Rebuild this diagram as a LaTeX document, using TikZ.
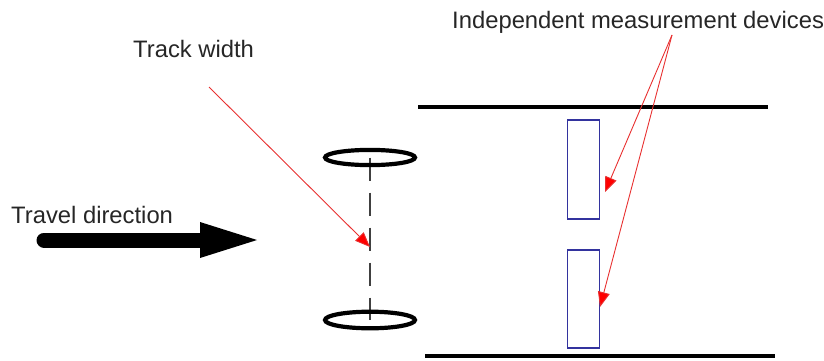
\documentclass[tikz,border=0pt]{standalone}
\usepackage{fontspec}
\setmainfont{Liberation Sans}
\usetikzlibrary{arrows.meta}
\definecolor{labelgray}{HTML}{262626}
\definecolor{devblue}{HTML}{33339E}
\definecolor{pointred}{HTML}{E83030}
\tikzset{
  label text/.style={font=\fontsize{23.8}{28}\selectfont, text=labelgray, inner sep=0pt, anchor=base west},
  rail/.style={line width=4pt, black},
  wheel/.style={line width=4.2pt, black},
  axle/.style={line width=1.3pt, black!75, dash pattern=on 23pt off 12pt},
  device/.style={draw=devblue, line width=1.6pt, fill=white, minimum width=32pt, inner sep=0pt},
  pointer/.style={draw=pointred, line width=0.9pt, -{Triangle[length=15pt, width=12pt, fill=red]}},
  travel/.style={line width=15pt, line cap=round, black},
}
\begin{document}
\begin{tikzpicture}[x=1pt, y=-1pt]
  \useasboundingbox (0,0) rectangle (824,361);

  % labels
  \node[label text] (trackLbl) at (133,58) {Track width};
  \node[label text] (travelLbl) at (11,223) {Travel direction};
  \node[label text] (devLbl) at (452,29) {Independent measurement devices};

  % rails
  \coordinate (railTopL) at (418,107);
  \coordinate (railTopR) at (768,107);
  \coordinate (railBotL) at (425,356);
  \coordinate (railBotR) at (775,356);
  \draw[rail] (railTopL) -- (railTopR);
  \draw[rail] (railBotL) -- (railBotR);

  % wheels and axle
  \coordinate (wheelTop) at (370,157.5);
  \coordinate (wheelBot) at (370,320);
  \draw[axle] (wheelTop) -- (wheelBot);
  \draw[wheel] (wheelTop) ellipse [x radius=45, y radius=7.6];
  \draw[wheel] (wheelBot) ellipse [x radius=45, y radius=8.3];

  % measurement devices
  \node[device, minimum height=99pt] (devTop) at (583.5,169.5) {};
  \node[device, minimum height=98pt] (devBot) at (583.5,299) {};

  % travel direction arrow
  \coordinate (shaftStart) at (44,240);
  \coordinate (shaftEnd) at (204,240);
  \draw[travel] (shaftStart) -- (shaftEnd);
  \fill[black] (200,222) -- (257,240) -- (200,258) -- cycle;

  % pointers
  \coordinate (trackFrom) at (209,87);
  \coordinate (trackTo) at (370,247);
  \draw[pointer] (trackFrom) -- (trackTo);
  \coordinate (devFrom) at (672,35);
  \coordinate (devTopHit) at (605,192);
  \coordinate (devBotHit) at (600,307);
  \draw[pointer] (devFrom) -- (devTopHit);
  \draw[pointer] (devFrom) -- (devBotHit);
\end{tikzpicture}
\end{document}
